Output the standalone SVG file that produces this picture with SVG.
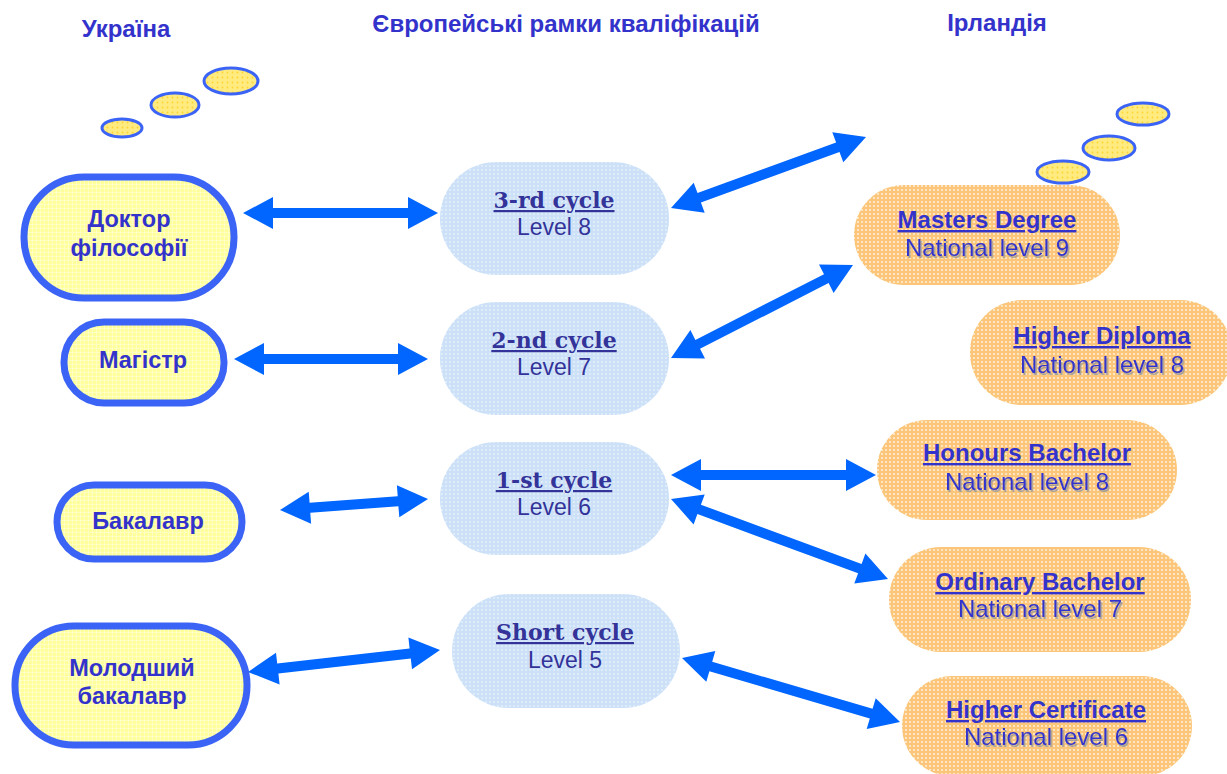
<svg xmlns="http://www.w3.org/2000/svg" width="1227" height="774" viewBox="0 0 1227 774">
<defs>
<pattern id="pY" width="4" height="4" patternUnits="userSpaceOnUse">
<rect width="4" height="4" fill="#FFFF9C"/>
<rect x="0" y="0" width="4" height="0.6" fill="#FFFFD8"/>
<rect x="0" y="0" width="0.6" height="4" fill="#FFFFD8"/>
</pattern>
<pattern id="pB" width="4" height="4" patternUnits="userSpaceOnUse">
<rect width="4" height="4" fill="#CCE1F8"/>
<circle cx="2" cy="2" r="0.8" fill="#FFFFFF" fill-opacity="0.8"/>
</pattern>
<pattern id="pO" width="4" height="4" patternUnits="userSpaceOnUse">
<rect width="4" height="4" fill="#FBC67A"/>
<circle cx="2" cy="2" r="0.9" fill="#FFFFFF" fill-opacity="0.8"/>
</pattern>
<pattern id="pT" width="5" height="5" patternUnits="userSpaceOnUse">
<rect width="5" height="5" fill="#FFEB80"/>
<circle cx="2.5" cy="2.5" r="0.9" fill="#FFD530"/>
</pattern>
<filter id="sh" x="-5%" y="-20%" width="110%" height="150%">
<feDropShadow dx="1.5" dy="2" stdDeviation="0.6" flood-color="#9A9A9A" flood-opacity="0.9"/>
</filter>
</defs>
<style>
.ua{fill:url(#pY);stroke:#3B64F6;stroke-width:7}
.cy{fill:url(#pB)}
.ie{fill:url(#pO)}
.bub{fill:url(#pT);stroke:#3B64F6;stroke-width:3}
.hdr{font-family:"Liberation Sans",Arial,sans-serif;font-weight:bold;font-size:24px;fill:#3333CC;text-anchor:middle}
.ual{font-family:"Liberation Sans",Arial,sans-serif;font-weight:bold;font-size:23.5px;fill:#3333CC;text-anchor:middle}
.cyt{font-family:"DejaVu Serif","Liberation Serif",serif;font-weight:bold;font-size:22px;fill:#333399;text-anchor:middle;text-decoration:underline}
.cyl{font-family:"Liberation Sans",Arial,sans-serif;font-size:23px;fill:#333399;text-anchor:middle}
.iet{font-family:"Liberation Sans",Arial,sans-serif;font-weight:bold;font-size:24px;fill:#3333CC;text-anchor:middle;text-decoration:underline}
.iel{font-family:"Liberation Sans",Arial,sans-serif;font-size:24px;fill:#3333CC;text-anchor:middle;filter:url(#sh)}
.arr{fill:#0066FF}
</style>
<rect width="1227" height="774" fill="#FFFFFF"/>

<g id="headers">
<text class="hdr" x="126" y="37">Україна</text>
<text class="hdr" x="566" y="32">Європейські рамки кваліфікацій</text>
<text class="hdr" x="997" y="31">Ірландія</text>
</g>

<g id="bubbles-left">
<ellipse class="bub" cx="122" cy="128" rx="20" ry="9"/>
<ellipse class="bub" cx="175" cy="105" rx="24" ry="12"/>
<ellipse class="bub" cx="231" cy="81" rx="27" ry="13"/>
</g>
<g id="bubbles-right">
<ellipse class="bub" cx="1063" cy="172" rx="26" ry="11"/>
<ellipse class="bub" cx="1109" cy="148" rx="26" ry="12"/>
<ellipse class="bub" cx="1143" cy="114" rx="26" ry="11"/>
</g>

<g id="connectors">
<polygon class="arr" points="243,213 273,229 273,218 408,218 408,229 438,213 408,197 408,208 273,208 273,197"/>
<polygon class="arr" points="234,359 264,375 264,364 398,364 398,375 428,359 398,343 398,354 264,354 264,343"/>
<polygon class="arr" points="280,510 311.1,523.7 310.3,512.8 398.4,506.2 399.3,517.2 428,499 396.9,485.3 397.7,496.2 309.6,502.8 308.7,491.8"/>
<polygon class="arr" points="248,672 279.6,684.5 278.4,673.6 410.8,658.4 412,669.3 440,650 408.4,637.5 409.6,648.4 277.2,663.6 276,652.7"/>
<polygon class="arr" points="671,208 704.7,212.8 700.9,202.4 839.5,152 843.3,162.3 866,137 832.3,132.2 836.1,142.6 697.5,193 693.7,182.7"/>
<polygon class="arr" points="671,358 705,358.6 700,348.8 828.6,283.1 833.6,292.9 853,265 819,264.4 824,274.2 695.4,339.9 690.4,330.1"/>
<polygon class="arr" points="671,475 701,491 701,480 846,480 846,491 876,475 846,459 846,470 701,470 701,459"/>
<polygon class="arr" points="671,499 693.6,524.4 697.4,514.1 858.1,573.3 854.3,583.6 888,579 865.4,553.6 861.6,563.9 700.9,504.7 704.7,494.4"/>
<polygon class="arr" points="682,658 706.3,681.8 709.4,671.3 869.8,718.4 866.7,728.9 900,722 875.7,698.2 872.6,708.8 712.2,661.7 715.3,651.1"/>
</g>

<g id="ua-doctor">
<rect class="ua" x="24" y="177" width="210" height="121" rx="60"/>
<text class="ual" x="129" y="227">Доктор</text>
<text class="ual" x="129" y="256">філософії</text>
</g>
<g id="ua-master">
<rect class="ua" x="64" y="322" width="160" height="81" rx="40"/>
<text class="ual" x="143" y="368">Магістр</text>
</g>
<g id="ua-bachelor">
<rect class="ua" x="57" y="485" width="185" height="74" rx="37"/>
<text class="ual" x="148" y="529">Бакалавр</text>
</g>
<g id="ua-junior">
<rect class="ua" x="15" y="626" width="232" height="119" rx="59"/>
<text class="ual" x="132" y="676">Молодший</text>
<text class="ual" x="132" y="704">бакалавр</text>
</g>

<g id="eu-3">
<rect class="cy" x="440" y="162" width="229" height="113" rx="56"/>
<text class="cyt" x="554" y="208">3-rd cycle</text>
<text class="cyl" x="554" y="235">Level 8</text>
</g>
<g id="eu-2">
<rect class="cy" x="440" y="302" width="229" height="113" rx="56"/>
<text class="cyt" x="554" y="348">2-nd cycle</text>
<text class="cyl" x="554" y="375">Level 7</text>
</g>
<g id="eu-1">
<rect class="cy" x="440" y="442" width="229" height="113" rx="56"/>
<text class="cyt" x="554" y="488">1-st cycle</text>
<text class="cyl" x="554" y="515">Level 6</text>
</g>
<g id="eu-short">
<rect class="cy" x="452" y="594" width="228" height="114" rx="57"/>
<text class="cyt" x="565" y="640">Short cycle</text>
<text class="cyl" x="565" y="668">Level 5</text>
</g>

<g id="ie-masters">
<rect class="ie" x="854" y="185" width="266" height="100" rx="50"/>
<text class="iet" x="987" y="228">Masters Degree</text>
<text class="iel" x="987" y="256">National level 9</text>
</g>
<g id="ie-higher-diploma">
<rect class="ie" x="970" y="300" width="262" height="105" rx="52"/>
<text class="iet" x="1102" y="344">Higher Diploma</text>
<text class="iel" x="1102" y="373">National level 8</text>
</g>
<g id="ie-honours">
<rect class="ie" x="877" y="420" width="300" height="100" rx="50"/>
<text class="iet" x="1027" y="461">Honours Bachelor</text>
<text class="iel" x="1027" y="490">National level 8</text>
</g>
<g id="ie-ordinary">
<rect class="ie" x="889" y="547" width="302" height="105" rx="52"/>
<text class="iet" x="1040" y="590">Ordinary Bachelor</text>
<text class="iel" x="1040" y="617">National level 7</text>
</g>
<g id="ie-certificate">
<rect class="ie" x="902" y="676" width="290" height="100" rx="50"/>
<text class="iet" x="1046" y="718">Higher Certificate</text>
<text class="iel" x="1046" y="745">National level 6</text>
</g>
</svg>
